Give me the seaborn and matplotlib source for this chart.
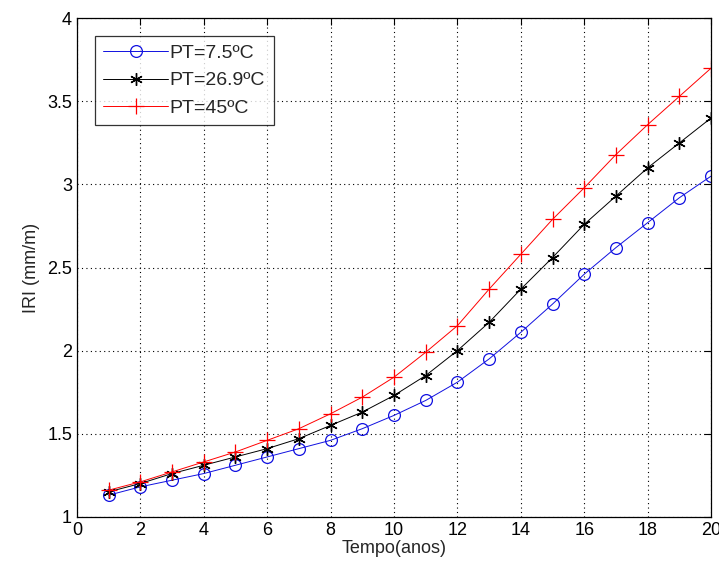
import matplotlib
matplotlib.use("Agg")
import matplotlib.pyplot as plt
import seaborn as sns

# Tempo (anos)
anos = list(range(1, 21))

# IRI (mm/m) for each PT
iri_pt_7_5 = [1.13, 1.18, 1.22, 1.26, 1.31, 1.36, 1.41, 1.46, 1.53, 1.61,
              1.70, 1.81, 1.95, 2.11, 2.28, 2.46, 2.62, 2.77, 2.92, 3.05]
iri_pt_26_9 = [1.15, 1.20, 1.26, 1.31, 1.36, 1.41, 1.47, 1.55, 1.63, 1.73,
               1.85, 2.00, 2.17, 2.37, 2.56, 2.76, 2.93, 3.10, 3.25, 3.40]
iri_pt_45 = [1.16, 1.21, 1.27, 1.33, 1.39, 1.46, 1.53, 1.62, 1.72, 1.84,
             1.99, 2.15, 2.37, 2.58, 2.79, 2.98, 3.18, 3.36, 3.53, 3.70]

labels = ["PT=7.5ºC", "PT=26.9ºC", "PT=45ºC"]
x_ticks = list(range(0, 21, 2))
y_ticks = [1, 1.5, 2, 2.5, 3, 3.5, 4]
y_tick_labels = ["1", "1.5", "2", "2.5", "3", "3.5", "4"]


def main():
    sns.set_style("white")
    plt.rcParams['font.family'] = ['Liberation Sans', 'DejaVu Sans']

    fig = plt.figure(figsize=(7.19, 5.71), dpi=100)
    ax = fig.add_axes([0.107, 0.095, 0.882, 0.873])

    styles = [
        (iri_pt_7_5, "#1010e0", "o", dict(markersize=8.5, markerfacecolor="none", markeredgewidth=0.9)),
        (iri_pt_26_9, "black", (6, 2, 0), dict(markersize=9, markeredgewidth=1.0)),
        (iri_pt_45, "red", "+", dict(markersize=12, markeredgewidth=0.9)),
    ]
    for (vals, col, mk, kw), lab in zip(styles, labels):
        sns.lineplot(x=anos, y=vals, ax=ax, color=col, marker=mk, label=lab,
                     linewidth=0.7, markeredgecolor=col, **kw)

    ax.set_xlim(0, 20)
    ax.set_ylim(1, 4)
    ax.set_xticks(x_ticks)
    ax.set_yticks(y_ticks)
    ax.set_yticklabels(y_tick_labels)
    ax.tick_params(direction="in", top=True, right=True, length=5, width=0.8,
                   labelsize=13, colors="black")
    ax.grid(True, linestyle=(0, (1, 3)), color="black", linewidth=0.8)
    for s in ax.spines.values():
        s.set_color("black")
        s.set_linewidth(0.9)

    ax.set_xlabel("Tempo(anos)", fontsize=13, labelpad=1)
    ax.set_ylabel("IRI (mm/m)", fontsize=13, labelpad=5)

    leg = ax.legend(loc="upper left", bbox_to_anchor=(0.028, 0.965), fontsize=14,
                    frameon=True, fancybox=False, handlelength=3.3,
                    handletextpad=0.1, borderpad=0.45, labelspacing=0.5,
                    borderaxespad=0)
    leg.get_frame().set_edgecolor("black")
    leg.get_frame().set_linewidth(0.9)

    fig.savefig("out.png", dpi=100)
    plt.close(fig)


if __name__ == "__main__":
    main()
